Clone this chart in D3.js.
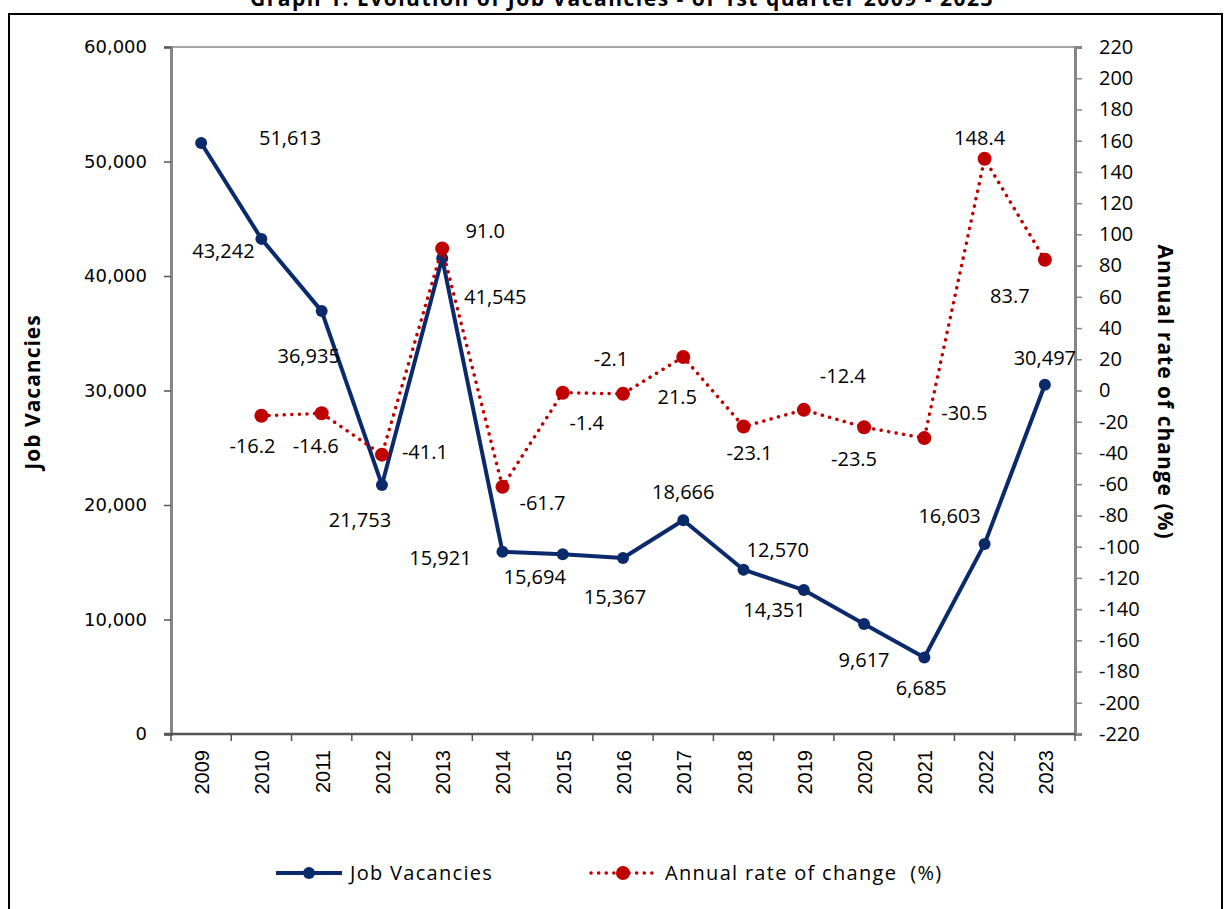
<!DOCTYPE html>
<html>
  <head>
    <meta charset="UTF-8">
    <style>
      body { margin: 0; background: white; }
      svg { display: block; }
      .tick-left text { font-family: 'DejaVu Sans', sans-serif; font-size: 18px; fill: #000; }
      .tick-right text { font-family: 'Open Sans', sans-serif; font-size: 20px; fill: #000; }
      .years text { font-family: 'Liberation Sans', Arial, sans-serif; font-size: 20px; fill: #000; }
      .lbl { font-family: 'Open Sans', sans-serif; font-size: 20px; fill: #000; }
      .legend-text { font-family: 'Open Sans', sans-serif; font-size: 20px; letter-spacing: 1.3px; fill: #000; }
      .axis-title { font-family: 'Open Sans', sans-serif; font-size: 21px; font-weight: bold; letter-spacing: 1px; fill: #000; }
    </style>
    <script src="https://d3js.org/d3.v7.min.js"></script>
  </head>
  <body>
    <svg id="chart"></svg>
    <script>
      const years = ['2009','2010','2011','2012','2013','2014','2015','2016','2017','2018','2019','2020','2021','2022','2023']
      const vacancies = [51613, 43242, 36935, 21753, 41545, 15921, 15694, 15367, 18666, 14351, 12570, 9617, 6685, 16603, 30497]
      const rateOfChange = [null, -16.2, -14.6, -41.1, 91.0, -61.7, -1.4, -2.1, 21.5, -23.1, -12.4, -23.5, -30.5, 148.4, 83.7]
      const leftTicks = [0, 10000, 20000, 30000, 40000, 50000, 60000]
      const rightTicks = d3.range(-220, 221, 20)

      // label offsets (px) relative to each point, as placed in the original
      const vacLabelOffset = [[89,-5],[-38,12],[-13,45],[-22,35],[53,39],[-62,6],[-28,23],[-8,39],[0,-28],[31,40],[-26,-40],[0,36],[-3,31],[-35,-28],[0,-27]]
      const rateLabelOffset = [null,[-9,30],[-6,33],[43,-3],[43,-17],[40,16],[24,30],[-12,-35],[-6,40],[6,26],[39,-34],[-10,32],[40,-25],[-5,-21],[-35,36]]

      const W = 1226, H = 909
      const plot = { left: 171, right: 1075, top: 47, bottom: 734 }
      const blue = '#0b2a6b', red = '#c00000', axisGrey = '#868686'
      const hyphen = f => d => f(d).replace('\u2212', '-')

      const svg = d3.select('#chart').attr('width', W).attr('height', H)

      // outer frame + title (clipped by the top edge, as in the original)
      svg.append('text')
        .attr('x', 622).attr('y', 6)
        .attr('text-anchor', 'middle')
        .style('font-family', "'Open Sans', sans-serif").style('font-size', '21px')
        .style('font-weight', 'bold').style('letter-spacing', '1.5px')
        .text('Graph 1: Evolution of Job Vacancies - of 1st quarter 2009 - 2023')
      svg.append('rect')
        .attr('x', 9).attr('y', 14).attr('width', 1213).attr('height', 920)
        .attr('fill', 'none').attr('stroke', '#000').attr('stroke-width', 2)

      const x = d3.scaleBand().domain(years).range([plot.left, plot.right]).padding(0)
      const yL = d3.scaleLinear().domain([0, 60000]).range([plot.bottom, plot.top])
      const yR = d3.scaleLinear().domain([-220, 220]).range([plot.bottom, plot.top])
      const cx = d => x(d) + x.bandwidth() / 2

      // plot border
      svg.append('rect')
        .attr('x', plot.left).attr('y', plot.top)
        .attr('width', plot.right - plot.left).attr('height', plot.bottom - plot.top)
        .attr('fill', 'none').attr('stroke', axisGrey).attr('stroke-width', 1.5)

      // left axis
      const gL = svg.append('g').attr('class', 'tick-left')
        .attr('transform', `translate(${plot.left},0)`)
        .call(d3.axisLeft(yL).tickValues(leftTicks).tickFormat(d3.format(',')).tickSize(7).tickPadding(17))
      gL.select('.domain').attr('stroke', axisGrey).attr('stroke-width', 3)
      gL.selectAll('.tick line').attr('stroke', '#555').attr('stroke-width', 1.5)

      // right axis
      const gR = svg.append('g').attr('class', 'tick-right')
        .attr('transform', `translate(${plot.right},0)`)
        .call(d3.axisRight(yR).tickValues(rightTicks).tickFormat(hyphen(d3.format('d'))).tickSize(7).tickPadding(17))
      gR.select('.domain').attr('stroke', axisGrey).attr('stroke-width', 3)
      gR.selectAll('.tick line').attr('stroke', axisGrey).attr('stroke-width', 1.5)

      // bottom axis: tick marks at category boundaries, rotated year labels
      const gB = svg.append('g').attr('class', 'years')
      gB.append('line')
        .attr('x1', plot.left - 7).attr('x2', plot.right)
        .attr('y1', plot.bottom).attr('y2', plot.bottom)
        .attr('stroke', '#555').attr('stroke-width', 2.5)
      const bounds = years.map(d => x(d)).concat([x(years[years.length - 1]) + x.bandwidth()])
      gB.selectAll('line.b').data(bounds).join('line').attr('class', 'b')
        .attr('x1', d => d).attr('x2', d => d)
        .attr('y1', plot.bottom).attr('y2', plot.bottom + 7)
        .attr('stroke', '#555').attr('stroke-width', 1.5)
      gB.selectAll('text').data(years).join('text')
        .attr('transform', d => `translate(${cx(d) + 1},${plot.bottom + 16}) rotate(-90)`)
        .attr('text-anchor', 'end').attr('dy', '0.35em')
        .text(d => d)

      // axis titles
      svg.append('text').attr('class', 'axis-title')
        .attr('transform', 'translate(33,392) rotate(-90)')
        .attr('text-anchor', 'middle').attr('dy', '0.35em')
        .text('Job Vacancies')
      svg.append('text').attr('class', 'axis-title')
        .attr('transform', 'translate(1165,392) rotate(90)')
        .attr('text-anchor', 'middle').attr('dy', '0.35em')
        .text('Annual rate of change (%)')

      // vacancies series
      const vacData = years.map((y, i) => ({ year: y, v: vacancies[i], off: vacLabelOffset[i] }))
      svg.append('path').datum(vacData)
        .attr('d', d3.line().x(d => cx(d.year)).y(d => yL(d.v)))
        .attr('fill', 'none').attr('stroke', blue).attr('stroke-width', 4).attr('stroke-linejoin', 'round')
      svg.selectAll('circle.vac').data(vacData).join('circle').attr('class', 'vac')
        .attr('cx', d => cx(d.year)).attr('cy', d => yL(d.v)).attr('r', 6).attr('fill', blue)

      // rate series
      const rateData = years.map((y, i) => ({ year: y, v: rateOfChange[i], off: rateLabelOffset[i] })).filter(d => d.v !== null)
      svg.append('path').datum(rateData)
        .attr('d', d3.line().x(d => cx(d.year)).y(d => yR(d.v)))
        .attr('fill', 'none').attr('stroke', red).attr('stroke-width', 3.5)
        .attr('stroke-dasharray', '0.1,7.5').attr('stroke-linecap', 'round')
      svg.selectAll('circle.rate').data(rateData).join('circle').attr('class', 'rate')
        .attr('cx', d => cx(d.year)).attr('cy', d => yR(d.v)).attr('r', 7).attr('fill', red)

      // data labels
      svg.selectAll('text.vl').data(vacData).join('text').attr('class', 'lbl vl')
        .attr('x', d => cx(d.year) + d.off[0]).attr('y', d => yL(d.v) + d.off[1])
        .attr('text-anchor', 'middle').attr('dy', '0.35em')
        .text(d => d3.format(',')(d.v))
      svg.selectAll('text.rl').data(rateData).join('text').attr('class', 'lbl rl')
        .attr('x', d => cx(d.year) + d.off[0]).attr('y', d => yR(d.v) + d.off[1])
        .attr('text-anchor', 'middle').attr('dy', '0.35em')
        .text(d => hyphen(d3.format('.1f'))(d.v))

      // legend
      const lg = svg.append('g').attr('transform', 'translate(0,873)')
      lg.append('line').attr('x1', 276).attr('x2', 342).attr('stroke', blue).attr('stroke-width', 4)
      lg.append('circle').attr('cx', 309).attr('r', 6).attr('fill', blue)
      lg.append('text').attr('class', 'legend-text').attr('x', 350).attr('dy', '0.35em').text('Job Vacancies')
      lg.append('line').attr('x1', 591).attr('x2', 656).attr('stroke', red).attr('stroke-width', 3.5)
        .attr('stroke-dasharray', '0.1,7.5').attr('stroke-linecap', 'round')
      lg.append('circle').attr('cx', 623).attr('r', 7).attr('fill', red)
      lg.append('text').attr('class', 'legend-text').attr('x', 665).attr('dy', '0.35em')
        .style('white-space', 'pre').text('Annual rate of change  (%)')
    </script>
  </body>
</html>
